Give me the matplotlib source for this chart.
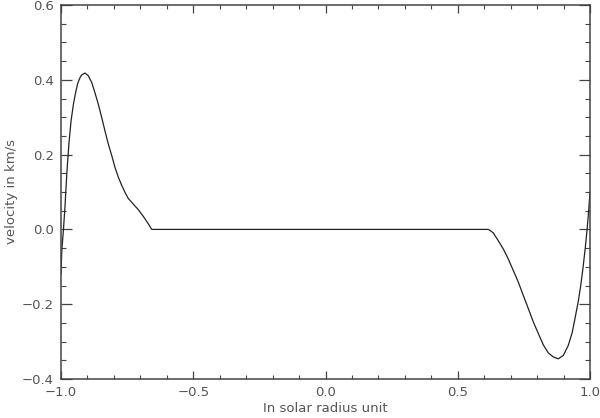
import numpy as np
import matplotlib
matplotlib.use("Agg")
import matplotlib.pyplot as plt
from matplotlib.ticker import MultipleLocator, FixedLocator, FixedFormatter

# Data
x_left = [-1.000, -0.997, -0.991, -0.985, -0.978, -0.970, -0.962, -0.953, -0.945,
          -0.937, -0.928, -0.922, -0.909, -0.897, -0.884, -0.872, -0.859, -0.846,
          -0.834, -0.821, -0.808, -0.796, -0.783, -0.770, -0.758, -0.746, -0.727,
          -0.708, -0.689, -0.670, -0.657]
v_left = [-0.120, -0.056, -0.003, 0.060, 0.150, 0.230, 0.290, 0.335, 0.365,
          0.390, 0.406, 0.413, 0.418, 0.411, 0.393, 0.366, 0.335, 0.299,
          0.264, 0.228, 0.197, 0.166, 0.139, 0.117, 0.099, 0.083, 0.068,
          0.053, 0.035, 0.015, 0.000]
x_flat = [-0.657, 0.616]
v_flat = [0.000, 0.000]
x_right = [0.616, 0.634, 0.653, 0.672, 0.691, 0.710, 0.729, 0.748, 0.767, 0.786,
           0.805, 0.823, 0.842, 0.861, 0.880, 0.899, 0.918, 0.933, 0.943, 0.955,
           0.965, 0.974, 0.982, 0.989, 0.995, 1.000]
v_right = [0.000, -0.009, -0.030, -0.052, -0.079, -0.110, -0.141, -0.177, -0.212,
           -0.248, -0.279, -0.308, -0.330, -0.341, -0.346, -0.337, -0.310, -0.275,
           -0.239, -0.195, -0.150, -0.100, -0.050, 0.000, 0.050, 0.100]

xticks = [-1.0, -0.5, 0.0, 0.5, 1.0]
xticklabels = ["\u22121.0", "\u22120.5", "0.0", "0.5", "1.0"]
yticks = [-0.4, -0.2, 0.0, 0.2, 0.4, 0.6]
yticklabels = ["\u22120.4", "\u22120.2", "0.0", "0.2", "0.4", "0.6"]

x = np.array(x_left + x_flat[1:] + x_right[1:])
v = np.array(v_left + v_flat[1:] + v_right[1:])

plt.rcParams['font.family'] = ['DejaVu Sans']
fig = plt.figure(figsize=(6.0, 4.18), dpi=100)
ax = fig.add_axes([61/600, 1-379/418, (590-61)/600, (379-5)/418])

ax.plot(x, v, color='#222222', lw=0.9, solid_joinstyle='round')
ax.set_xlim(-1.0, 1.0)
ax.set_ylim(-0.4, 0.6)

tc = '#444444'
ax.xaxis.set_major_locator(FixedLocator(xticks))
ax.xaxis.set_major_formatter(FixedFormatter(xticklabels))
ax.xaxis.set_minor_locator(MultipleLocator(0.1))
ax.yaxis.set_major_locator(FixedLocator(yticks))
ax.yaxis.set_major_formatter(FixedFormatter(yticklabels))
ax.yaxis.set_minor_locator(MultipleLocator(0.05))

ax.tick_params(axis='x', which='major', direction='in', length=5.5, width=0.9,
               top=True, bottom=True, colors=tc, labelsize=9.5, pad=5, labelcolor='#555555')
ax.tick_params(axis='x', which='minor', direction='in', length=2.8, width=0.8,
               top=True, bottom=True, colors=tc)
ax.tick_params(axis='y', which='major', direction='in', length=7.6, width=0.9,
               left=True, right=True, colors=tc, labelsize=9.5, pad=5, labelcolor='#555555')
ax.tick_params(axis='y', which='minor', direction='in', length=3.8, width=0.8,
               left=True, right=True, colors=tc)

for s in ax.spines.values():
    s.set_color('#444444')
    s.set_linewidth(1.1)

ax.set_xlabel("In solar radius unit", fontsize=9.5, color='#555555', labelpad=2)
ax.set_ylabel("velocity in km/s", fontsize=9.5, color='#555555', labelpad=3)

fig.savefig("out.png", dpi=100)
